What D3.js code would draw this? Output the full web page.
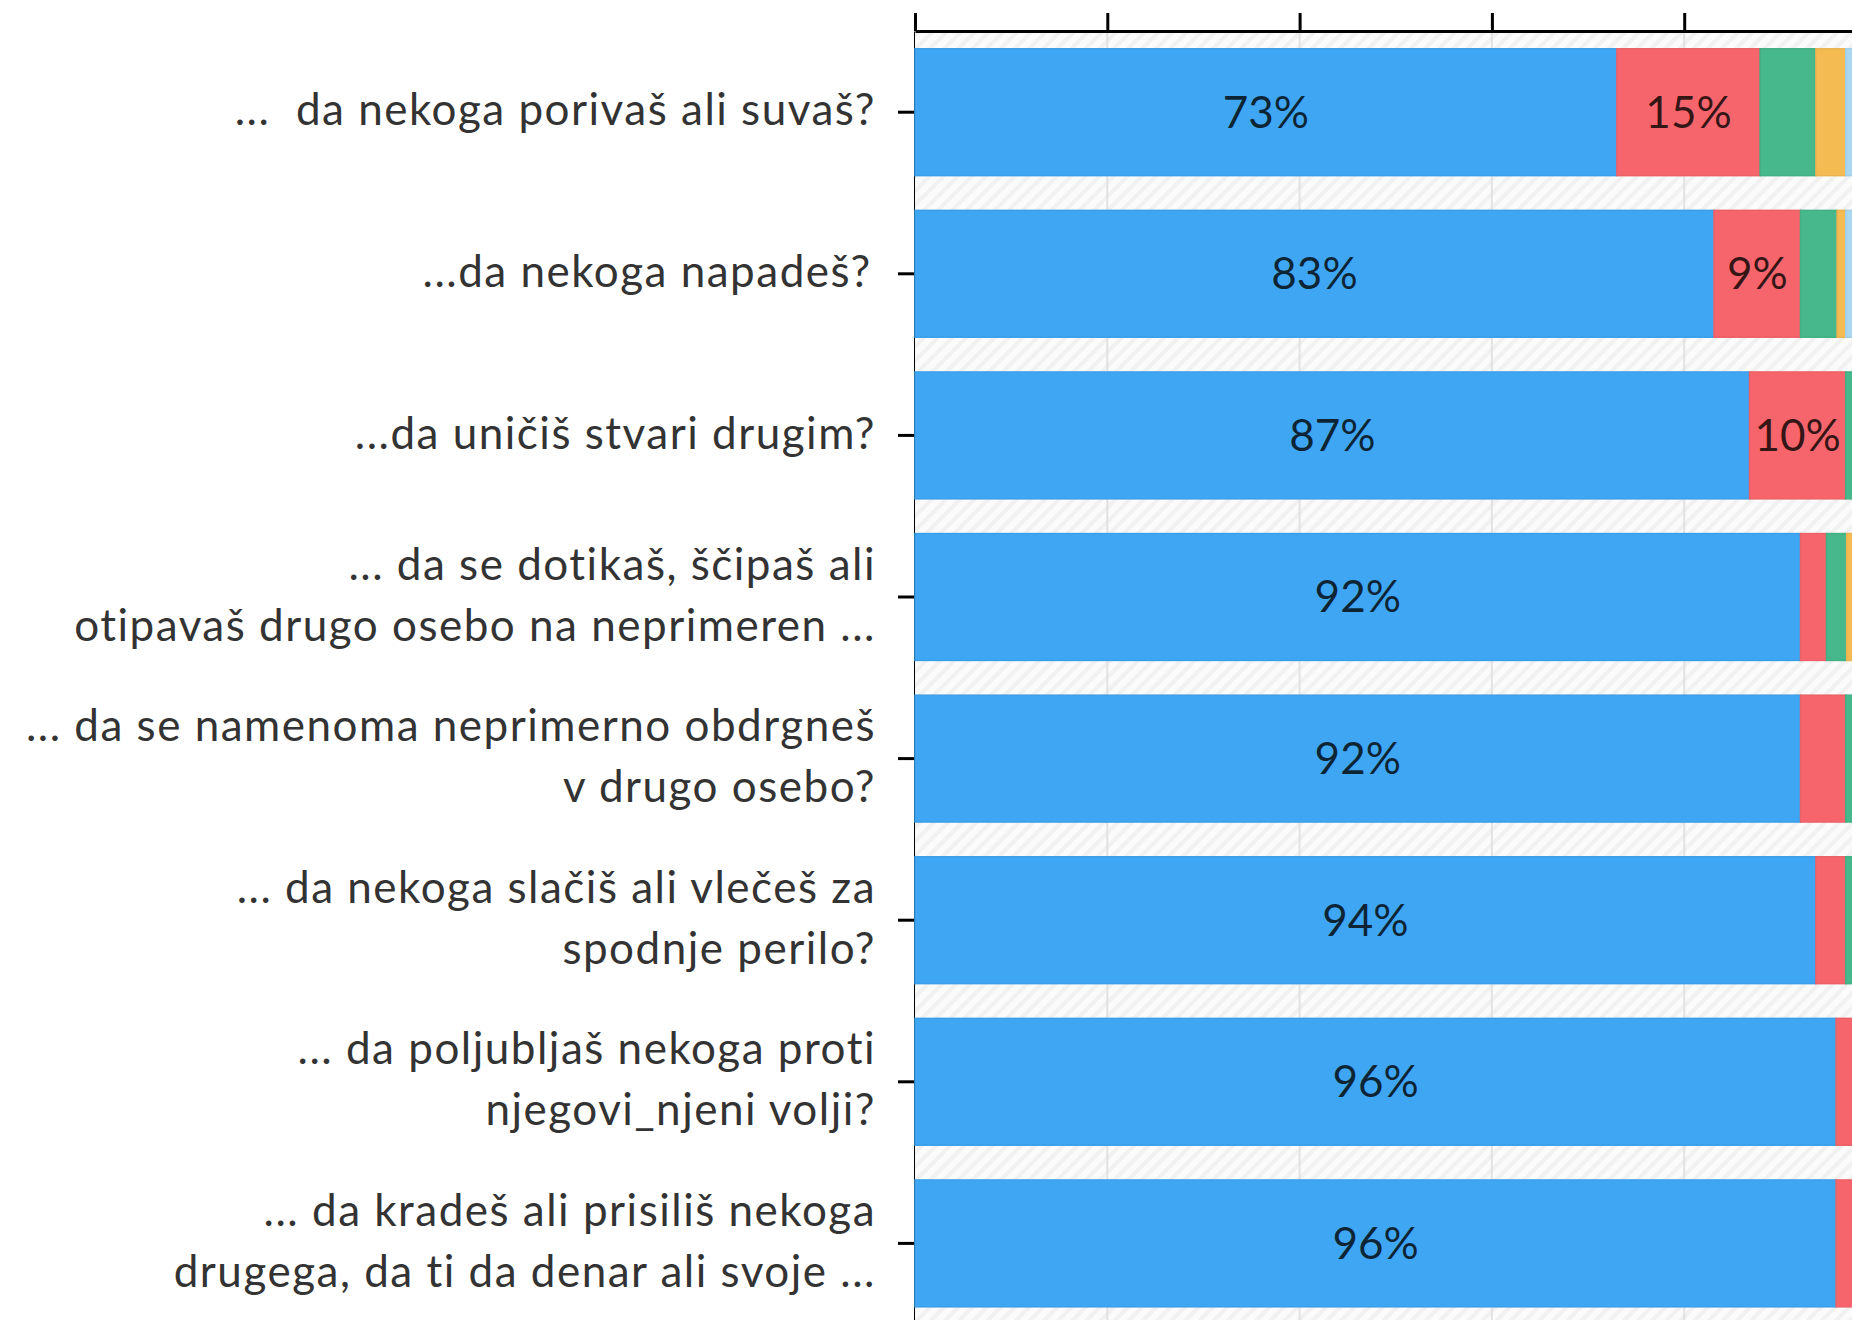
<!DOCTYPE html>
<html>
<head>
<meta charset="utf-8">
<script src="https://cdn.jsdelivr.net/npm/d3@7"></script>
<style>
  body { margin: 0; background: #fff; }
  svg { display: block; }
  .lbl { font-family: Lato, "Noto Sans", sans-serif; font-size: 44px; letter-spacing: 1.5px; fill: #333; }
  .val { font-family: Lato, "Noto Sans", sans-serif; font-size: 44px; fill: #000; fill-opacity: 0.78; }
</style>
</head>
<body>
<div id="chart"></div>
<script>
// questions (each one a list of lines)
var questions = [
  ["...\u00a0\u00a0da nekoga porivaš ali suvaš?"],
  ["...da nekoga napadeš?\u200a"],
  ["...da uničiš stvari drugim?"],
  ["... da se dotikaš, ščipaš ali", "otipavaš drugo osebo na neprimeren ..."],
  ["... da se namenoma neprimerno obdrgneš", "v drugo osebo?"],
  ["... da nekoga slačiš ali vlečeš za", "spodnje perilo?"],
  ["... da poljubljaš nekoga proti", "njegovi_njeni volji?"],
  ["... da kradeš ali prisiliš nekoga", "drugega, da ti da denar ali svoje ..."]
];

// answer shares in %, one array per answer (blue, red, green, orange, light blue)
var never     = [73.0, 83.1, 86.8, 92.1, 92.1, 93.7, 95.8, 95.8];
var once      = [14.9,  9.0, 10.0,  2.7,  4.7,  3.1,  2.5,  2.6];
var sometimes = [ 5.8,  3.8,  1.5,  2.1,  1.5,  1.5,  0.8,  0.8];
var often     = [ 3.1,  0.9,  0.5,  1.5,  0.7,  0.7,  0.4,  0.4];
var noAnswer  = [ 3.2,  3.2,  1.2,  1.6,  1.0,  1.0,  0.5,  0.4];

var seriesNames = ["never", "once", "sometimes", "often", "noAnswer"];
var seriesColors = ["#3fa6f3", "#f6656b", "#46b88b", "#f5bb53", "#a8d7f1"];

var xTicks = [0, 20, 40, 60, 80, 100];

class StackedChart
{

constructor(div) {
    this.width = 1852;
    this.height = 1320;
    this.svg = d3.select(div).append("svg")
        .attr("width", this.width)
        .attr("height", this.height);
    this.x = d3.scaleLinear().domain([0, 100]).range([915, 1876.5]);
    this.y = d3.scaleBand()
        .domain(d3.range(questions.length))
        .range([31, 31 + 8 * 161.7])
        .paddingInner(0.215)
        .paddingOuter(0.11);
    this.drawBackground();
    this.drawBars();
    this.drawAxes();
    this.drawLabels();
}

drawBackground() {
    var svg = this.svg;
    var pat = svg.append("defs").append("pattern")
        .attr("id", "hatch")
        .attr("patternUnits", "userSpaceOnUse")
        .attr("width", 10)
        .attr("height", 10)
        .attr("patternTransform", "rotate(45)");
    pat.append("rect").attr("width", 10).attr("height", 10).attr("fill", "#fbfbfb");
    pat.append("rect").attr("width", 4).attr("height", 10).attr("fill", "#f1f1f1");

    svg.append("rect")
        .attr("x", this.x(0))
        .attr("y", 31)
        .attr("width", this.width - this.x(0))
        .attr("height", this.height - 31)
        .attr("fill", "url(#hatch)");

    var x = this.x;
    svg.append("g").selectAll("line")
        .data(xTicks.slice(1))
        .join("line")
        .attr("x1", d => x(d))
        .attr("x2", d => x(d))
        .attr("y1", 31)
        .attr("y2", this.height)
        .attr("stroke", "#e2e2e2")
        .attr("stroke-width", 2);
}

drawBars() {
    var x = this.x, y = this.y;
    var rows = questions.map(function(q, i) {
        var r = {idx: i};
        r.never = never[i]; r.once = once[i]; r.sometimes = sometimes[i];
        r.often = often[i]; r.noAnswer = noAnswer[i];
        return r;
    });
    var stacked = d3.stack().keys(seriesNames)(rows);

    var groups = this.svg.append("g").selectAll("g")
        .data(stacked)
        .join("g")
        .attr("fill", (d, i) => seriesColors[i])
        .attr("stroke", (d, i) => d3.color(seriesColors[i]).darker(0.12))
        .attr("stroke-width", 1.5);

    groups.selectAll("rect")
        .data(d => d)
        .join("rect")
        .attr("x", d => x(d[0]))
        .attr("y", d => y(d.data.idx))
        .attr("width", d => x(d[1]) - x(d[0]))
        .attr("height", y.bandwidth());

    // value labels for the wide segments only
    var labels = [];
    stacked.forEach(function(s) {
        s.forEach(function(d) {
            var v = d[1] - d[0];
            if (v >= 8) labels.push({v: v, mid: (d[0] + d[1]) / 2, idx: d.data.idx});
        });
    });
    this.svg.append("g").selectAll("text")
        .data(labels)
        .join("text")
        .attr("class", "val")
        .attr("x", d => x(d.mid))
        .attr("y", d => y(d.idx) + y.bandwidth() / 2)
        .attr("dy", "0.35em")
        .attr("text-anchor", "middle")
        .text(d => Math.round(d.v) + "%");
}

drawAxes() {
    var top = this.svg.append("g")
        .attr("transform", "translate(0,31)")
        .call(d3.axisTop(this.x).tickValues(xTicks).tickSize(18).tickSizeOuter(0).tickFormat(""));
    top.selectAll("path, line").attr("stroke", "#000").attr("stroke-width", 3);

    var left = this.svg.append("g")
        .attr("transform", "translate(915,0)")
        .call(d3.axisLeft(this.y).tickSize(17).tickSizeOuter(0).tickFormat(""));
    left.selectAll("path, line").attr("stroke", "#000").attr("stroke-width", 3);
    left.lower();
    this.svg.select("rect").lower();
    this.svg.select("defs").lower();
}

drawLabels() {
    var y = this.y;
    var g = this.svg.append("g");
    questions.forEach(function(lines, i) {
        var cy = y(i) + y.bandwidth() / 2;
        var t = g.append("text")
            .attr("class", "lbl")
            .attr("text-anchor", "end");
        lines.forEach(function(line, j) {
            t.append("tspan")
                .attr("x", 876)
                .attr("y", cy + (j - (lines.length - 1) / 2) * 61)
                .attr("dy", "0.3em")
                .text(line);
        });
    });
}

}

new StackedChart("#chart");
</script>
</body>
</html>
